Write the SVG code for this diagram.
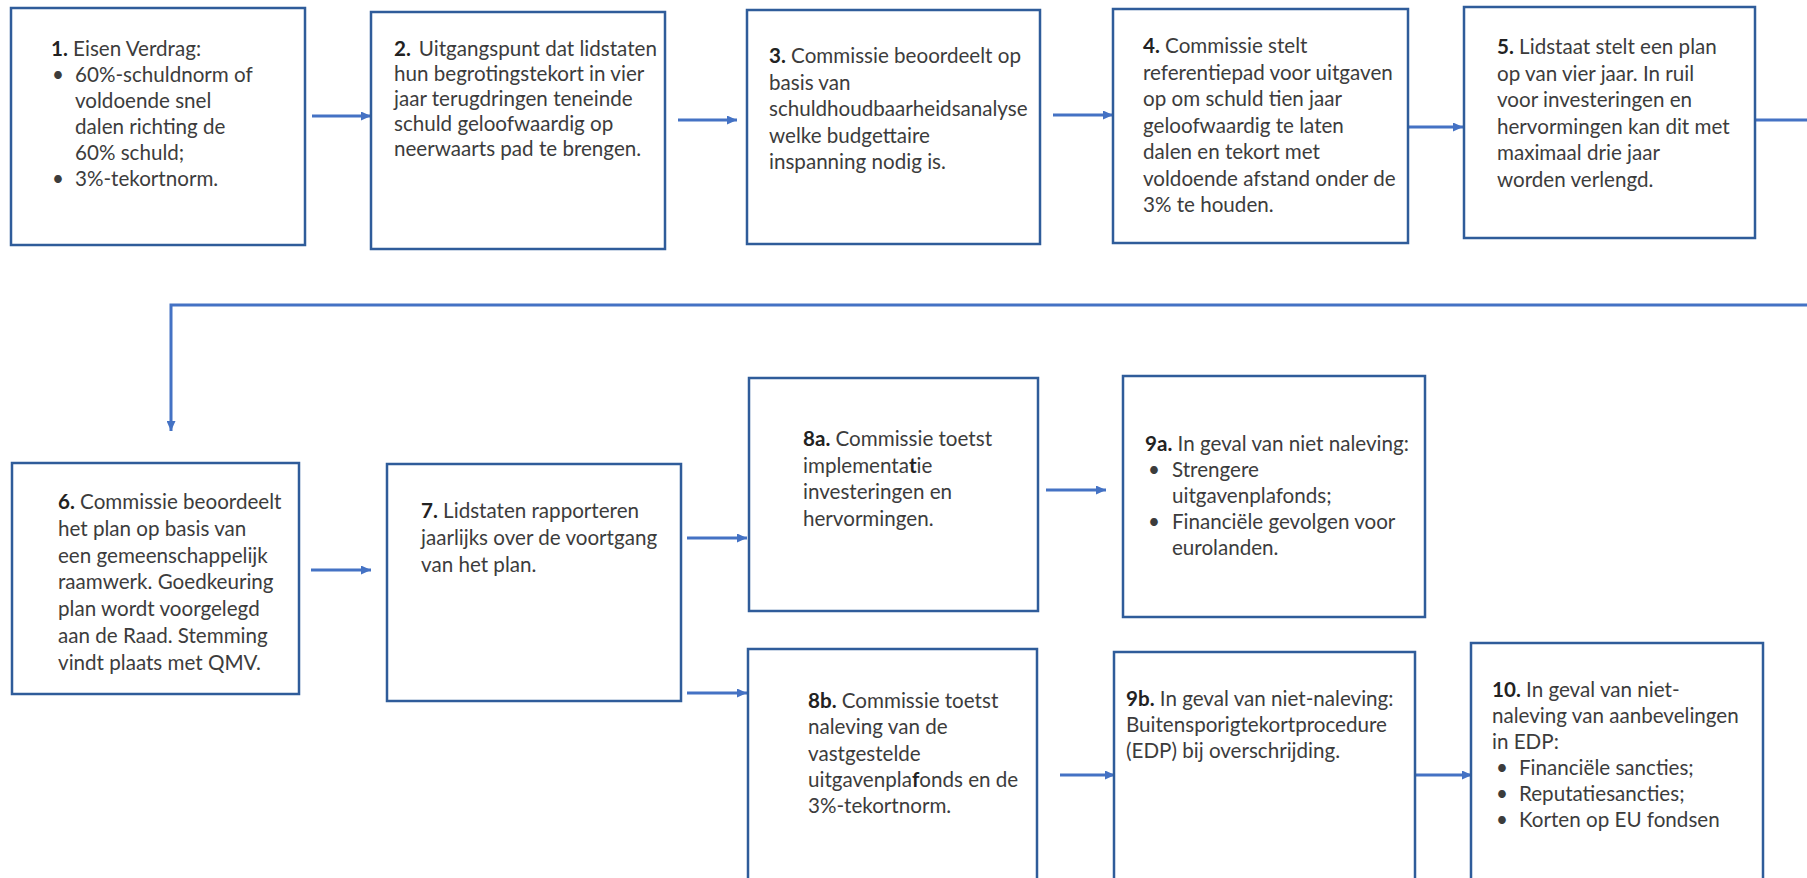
<svg xmlns="http://www.w3.org/2000/svg" width="1807" height="878" viewBox="0 0 1807 878">
<defs>
<marker id="ah" viewBox="0 0 10 10" refX="10" refY="5" markerWidth="10" markerHeight="9" markerUnits="userSpaceOnUse" orient="auto" preserveAspectRatio="none">
<path d="M0,0 L10,5 L0,10 z" fill="#4472C4"/>
</marker>
<style>
.box{fill:#fff;stroke:#2F5C9A;stroke-width:2.5}
.t{font-family:Lato,"Liberation Sans",sans-serif;font-size:20.6px;fill:#3c3c3c}
.b{font-weight:bold;fill:#222}
.c{fill:none;stroke:#4472C4;stroke-width:3}
</style>
</defs>
<rect width="1807" height="878" fill="#fff"/>
<g id="connectors">
<line class="c" x1="312" y1="116" x2="371" y2="116" marker-end="url(#ah)"/>
<line class="c" x1="678" y1="120" x2="737" y2="120" marker-end="url(#ah)"/>
<line class="c" x1="1053" y1="115" x2="1113" y2="115" marker-end="url(#ah)"/>
<line class="c" x1="1403" y1="127" x2="1463" y2="127" marker-end="url(#ah)"/>
<polyline class="c" points="1755,120 1807,120"/>
<polyline class="c" points="1807,305 171,305 171,431" marker-end="url(#ah)"/>
<line class="c" x1="311" y1="570" x2="371" y2="570" marker-end="url(#ah)"/>
<line class="c" x1="687" y1="538" x2="747" y2="538" marker-end="url(#ah)"/>
<line class="c" x1="687" y1="693" x2="747" y2="693" marker-end="url(#ah)"/>
<line class="c" x1="1046" y1="490" x2="1106" y2="490" marker-end="url(#ah)"/>
<line class="c" x1="1060" y1="775" x2="1115" y2="775" marker-end="url(#ah)"/>
<line class="c" x1="1415" y1="775" x2="1472" y2="775" marker-end="url(#ah)"/>
</g>
<g id="n1">
<rect class="box" x="11" y="8" width="294" height="237"/>
<text class="t"><tspan x="51" y="56"><tspan class="b">1.</tspan> Eisen Verdrag:</tspan>
<tspan x="52" y="82">•</tspan><tspan x="75" y="82">60%-schuldnorm of</tspan>
<tspan x="75" y="108">voldoende snel</tspan>
<tspan x="75" y="134">dalen richting de</tspan>
<tspan x="75" y="160">60% schuld;</tspan>
<tspan x="52" y="186">•</tspan><tspan x="75" y="186">3%-tekortnorm.</tspan></text>
</g>
<g id="n2">
<rect class="box" x="371" y="12" width="294" height="237"/>
<text class="t"><tspan x="394" y="56"><tspan class="b">2.</tspan><tspan dx="8">Uitgangspunt dat lidstaten</tspan></tspan>
<tspan x="394" y="81">hun begrotingstekort in vier</tspan>
<tspan x="394" y="106">jaar terugdringen teneinde</tspan>
<tspan x="394" y="131">schuld geloofwaardig op</tspan>
<tspan x="394" y="156">neerwaarts pad te brengen.</tspan></text>
</g>
<g id="n3">
<rect class="box" x="747" y="10" width="293" height="234"/>
<text class="t"><tspan x="769" y="63"><tspan class="b">3.</tspan> Commissie beoordeelt op</tspan>
<tspan x="769" y="89.5">basis van</tspan>
<tspan x="769" y="116">schuldhoudbaarheidsanalyse</tspan>
<tspan x="769" y="142.5">welke budgettaire</tspan>
<tspan x="769" y="169">inspanning nodig is.</tspan></text>
</g>
<g id="n4">
<rect class="box" x="1113" y="9" width="295" height="234"/>
<text class="t"><tspan x="1143" y="53"><tspan class="b">4.</tspan> Commissie stelt</tspan>
<tspan x="1143" y="79.5">referentiepad voor uitgaven</tspan>
<tspan x="1143" y="106">op om schuld tien jaar</tspan>
<tspan x="1143" y="132.5">geloofwaardig te laten</tspan>
<tspan x="1143" y="159">dalen en tekort met</tspan>
<tspan x="1143" y="185.5">voldoende afstand onder de</tspan>
<tspan x="1143" y="212">3% te houden.</tspan></text>
</g>
<g id="n5">
<rect class="box" x="1464" y="7" width="291" height="231"/>
<text class="t"><tspan x="1497" y="54"><tspan class="b">5.</tspan> Lidstaat stelt een plan</tspan>
<tspan x="1497" y="80.5">op van vier jaar. In ruil</tspan>
<tspan x="1497" y="107">voor investeringen en</tspan>
<tspan x="1497" y="133.5">hervormingen kan dit met</tspan>
<tspan x="1497" y="160">maximaal drie jaar</tspan>
<tspan x="1497" y="186.5">worden verlengd.</tspan></text>
</g>
<g id="n6">
<rect class="box" x="12" y="463" width="287" height="231"/>
<text class="t"><tspan x="58" y="509"><tspan class="b">6.</tspan> Commissie beoordeelt</tspan>
<tspan x="58" y="535.8">het plan op basis van</tspan>
<tspan x="58" y="562.6">een gemeenschappelijk</tspan>
<tspan x="58" y="589.4">raamwerk. Goedkeuring</tspan>
<tspan x="58" y="616.2">plan wordt voorgelegd</tspan>
<tspan x="58" y="643">aan de Raad. Stemming</tspan>
<tspan x="58" y="669.8">vindt plaats met QMV.</tspan></text>
</g>
<g id="n7">
<rect class="box" x="387" y="464" width="294" height="237"/>
<text class="t"><tspan x="421" y="518"><tspan class="b">7.</tspan> Lidstaten rapporteren</tspan>
<tspan x="421" y="545">jaarlijks over de voortgang</tspan>
<tspan x="421" y="572">van het plan.</tspan></text>
</g>
<g id="n8a">
<rect class="box" x="749" y="378" width="289" height="233"/>
<text class="t"><tspan x="803" y="446"><tspan class="b">8a.</tspan> Commissie toetst</tspan>
<tspan x="803" y="472.5">implementa<tspan class="b">t</tspan>ie</tspan>
<tspan x="803" y="499">investeringen en</tspan>
<tspan x="803" y="525.5">hervormingen.</tspan></text>
</g>
<g id="n9a">
<rect class="box" x="1123" y="376" width="302" height="241"/>
<text class="t"><tspan x="1145" y="451"><tspan class="b">9a.</tspan> In geval van niet naleving:</tspan>
<tspan x="1148" y="477">•</tspan><tspan x="1172" y="477">Strengere</tspan>
<tspan x="1172" y="503">uitgavenplafonds;</tspan>
<tspan x="1148" y="529">•</tspan><tspan x="1172" y="529">Financiële gevolgen voor</tspan>
<tspan x="1172" y="555">eurolanden.</tspan></text>
</g>
<g id="n8b">
<rect class="box" x="748" y="649" width="289" height="235"/>
<text class="t"><tspan x="808" y="708"><tspan class="b">8b.</tspan> Commissie toetst</tspan>
<tspan x="808" y="734.3">naleving van de</tspan>
<tspan x="808" y="760.6">vastgestelde</tspan>
<tspan x="808" y="786.9">uitgavenpla<tspan class="b">f</tspan>onds en de</tspan>
<tspan x="808" y="813.2">3%-tekortnorm.</tspan></text>
</g>
<g id="n9b">
<rect class="box" x="1114" y="652" width="301" height="232"/>
<text class="t"><tspan x="1126" y="706"><tspan class="b">9b.</tspan> In geval van niet-naleving:</tspan>
<tspan x="1126" y="732">Buitensporigtekortprocedure</tspan>
<tspan x="1126" y="758">(EDP) bij overschrijding.</tspan></text>
</g>
<g id="n10">
<rect class="box" x="1471" y="643" width="292" height="241"/>
<text class="t"><tspan x="1492" y="697"><tspan class="b">10.</tspan> In geval van niet-</tspan>
<tspan x="1492" y="723">naleving van aanbevelingen</tspan>
<tspan x="1492" y="749">in EDP:</tspan>
<tspan x="1496" y="775">•</tspan><tspan x="1519" y="775">Financiële sancties;</tspan>
<tspan x="1496" y="801">•</tspan><tspan x="1519" y="801">Reputatiesancties;</tspan>
<tspan x="1496" y="827">•</tspan><tspan x="1519" y="827">Korten op EU fondsen</tspan></text>
</g>
</svg>
